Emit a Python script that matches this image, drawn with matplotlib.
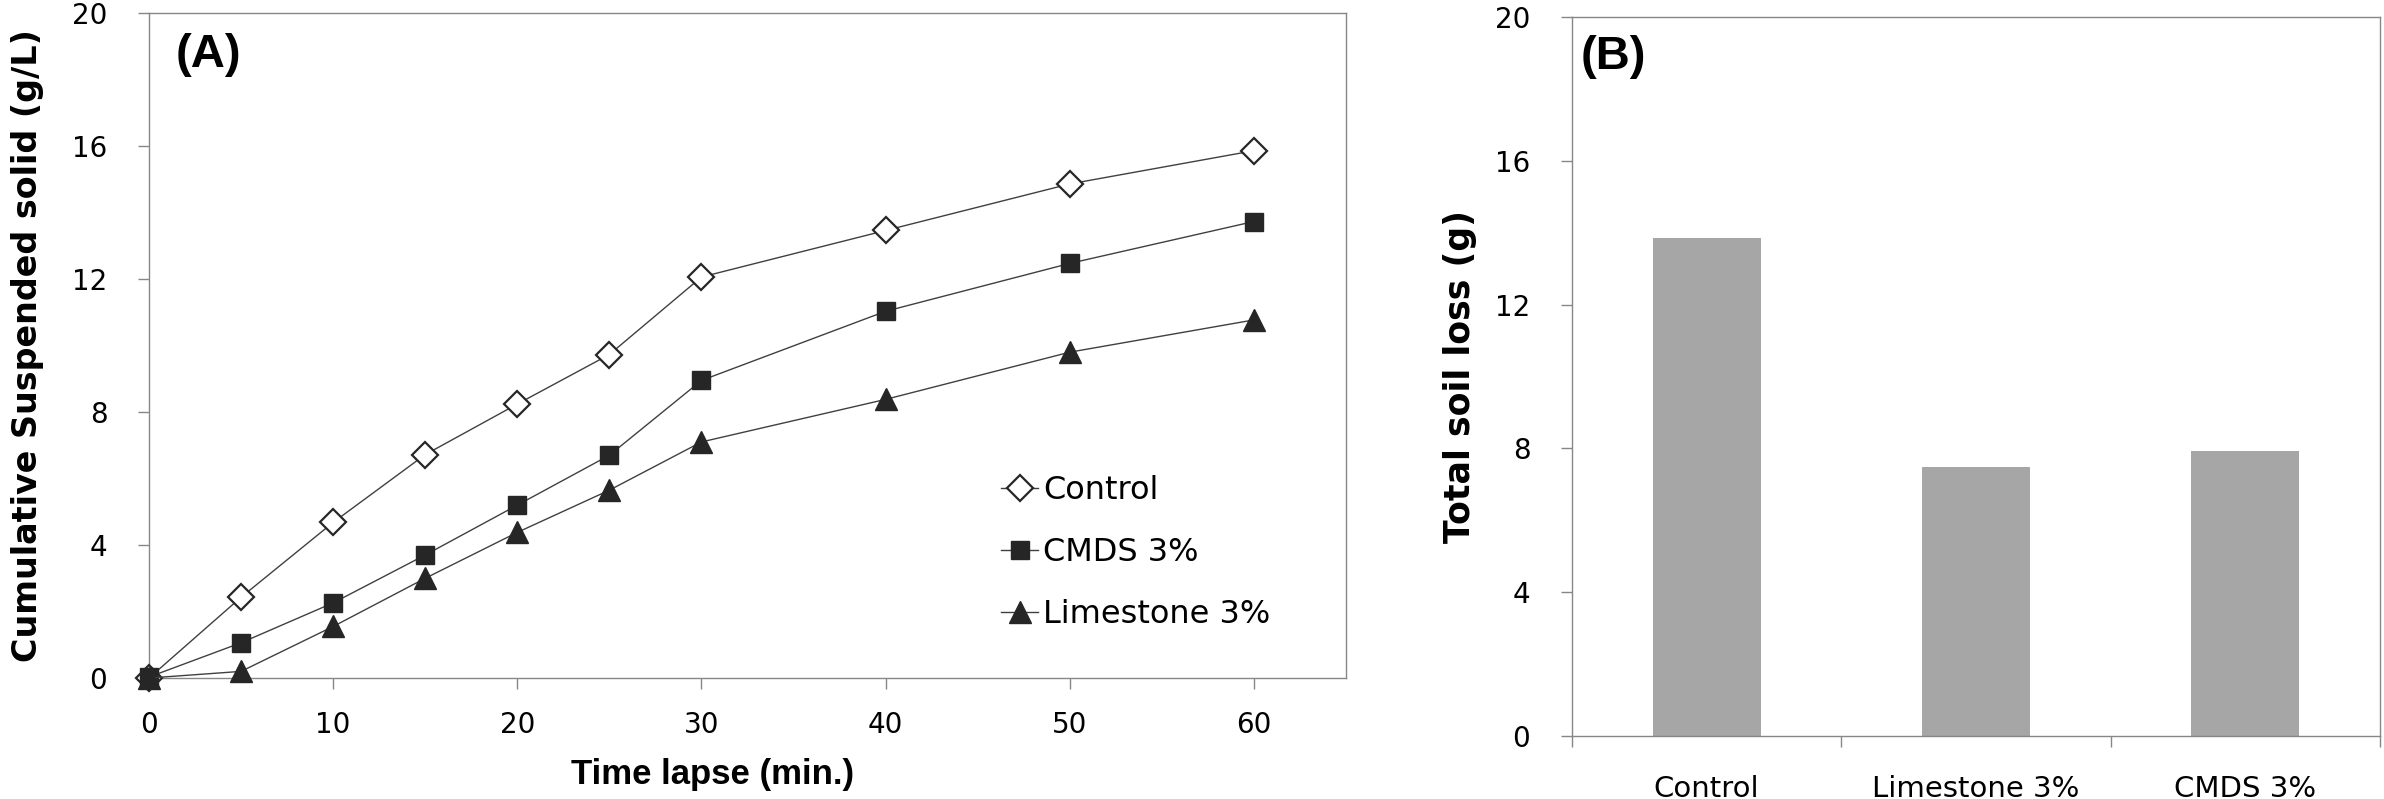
import numpy as np
import matplotlib
matplotlib.use('Agg')
import matplotlib.pyplot as plt

# Data (A): cumulative suspended solid vs time
t = [0, 5, 10, 15, 20, 25, 30, 40, 50, 60]
control = [0, 2.43, 4.68, 6.72, 8.24, 9.73, 12.06, 13.46, 14.86, 15.86]
cmds = [0.03, 1.06, 2.26, 3.70, 5.20, 6.70, 8.95, 11.03, 12.47, 13.73]
limestone = [0, 0.20, 1.55, 3.00, 4.38, 5.65, 7.10, 8.38, 9.80, 10.77]

# Data (B): total soil loss
treatments = ['Control', 'Limestone 3%', 'CMDS 3%']
soil_loss = [13.85, 7.48, 7.92]

x_ticks = [0, 10, 20, 30, 40, 50, 60]
y_ticks = [0, 4, 8, 12, 16, 20]

spine_col = '#878787'
dark = '#262626'
line_col = '#404040'

plt.rcParams['font.family'] = ['DejaVu Sans']

fig = plt.figure(figsize=(23.84, 7.99), dpi=100)
axA = fig.add_axes([0.0625, 0.1514, 0.5021, 0.8323])
axB = fig.add_axes([0.6594, 0.0788, 0.3389, 0.8999])

# ---- panel A
axA.plot(t, control, color=line_col, lw=1.0, marker='D', ms=13.5, mfc='white',
         mec=dark, mew=1.6, label='Control', clip_on=False, zorder=3)
axA.plot(t, cmds, color=line_col, lw=1.0, marker='s', ms=13.5, mfc=dark,
         mec=dark, label='CMDS 3%', clip_on=False, zorder=3)
axA.plot(t, limestone, color=line_col, lw=1.0, marker='^', ms=16, mfc=dark,
         mec=dark, label='Limestone 3%', clip_on=False, zorder=3)

axA.set_xlim(0, 65)
axA.set_ylim(0, 20)
axA.set_xticks(x_ticks)
axA.set_yticks(y_ticks)
axA.tick_params(axis='y', direction='out', length=8, width=1, color=spine_col,
                labelsize=20, pad=22)
axA.tick_params(axis='x', direction='out', length=8, width=1, color=spine_col,
                labelsize=20, pad=16)
for s in axA.spines.values():
    s.set_color(spine_col)
    s.set_linewidth(1.0)

axA.set_xlabel('Time lapse (min.)', fontsize=25, fontweight='bold',
               family='Liberation Sans')
axA.xaxis.set_label_coords(0.471, -0.12)
axA.set_ylabel('Cumulative Suspended solid (g/L)', fontsize=24, fontweight='bold')
axA.yaxis.set_label_coords(-0.088, 0.5)

axA.text(0.022, 0.97, '(A)', transform=axA.transAxes, fontsize=34,
         fontweight='bold', family='Liberation Sans', va='top', ha='left')

axA.legend(loc='upper left', bbox_to_anchor=(0.712, 0.305), frameon=False,
           fontsize=23, handlelength=1.15, handletextpad=0.15,
           labelspacing=0.97, borderpad=0, borderaxespad=0)

# ---- panel B
xpos = np.arange(len(treatments))
axB.bar(xpos, soil_loss, width=0.4, color='#a6a6a6', zorder=2)
axB.set_xlim(-0.5, 2.5)
axB.set_ylim(0, 20)
axB.set_yticks(y_ticks)
axB.set_xticks(xpos)
axB.set_xticklabels(treatments)
axB.set_xticks([-0.5, 0.5, 1.5, 2.5], minor=True)
axB.tick_params(axis='x', which='major', length=0, labelsize=21, pad=28)
axB.tick_params(axis='x', which='minor', direction='out', length=8, width=1,
                color=spine_col)
axB.tick_params(axis='y', direction='out', length=8, width=1, color=spine_col,
                labelsize=20, pad=22)
for s in axB.spines.values():
    s.set_color(spine_col)
    s.set_linewidth(1.0)

axB.set_ylabel('Total soil loss (g)', fontsize=25, fontweight='bold')
axB.yaxis.set_label_coords(-0.117, 0.5)

axB.text(0.011, 0.975, '(B)', transform=axB.transAxes, fontsize=34,
         fontweight='bold', family='Liberation Sans', va='top', ha='left')

fig.savefig('out.png', dpi=100)
